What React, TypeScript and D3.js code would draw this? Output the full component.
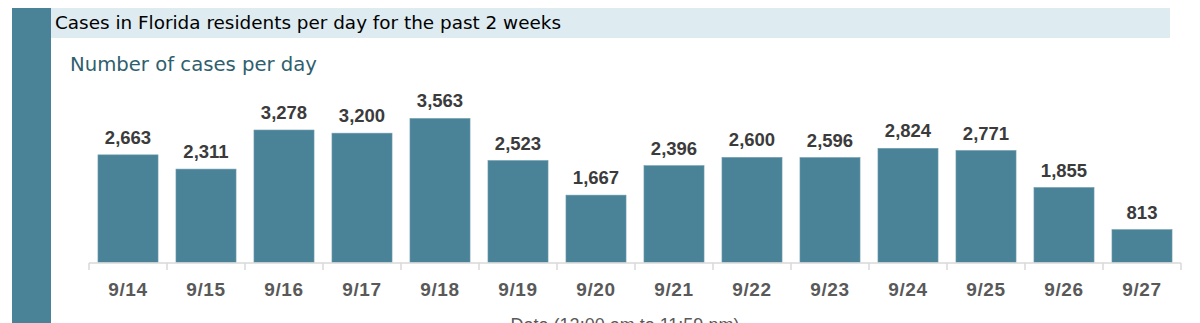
import React from "react";
import * as d3 from "d3";

const dates = ["9/14","9/15","9/16","9/17","9/18","9/19","9/20","9/21","9/22","9/23","9/24","9/25","9/26","9/27"];
const cases = [2663,2311,3278,3200,3563,2523,1667,2396,2600,2596,2824,2771,1855,813];
const title = "Cases in Florida residents per day for the past 2 weeks";
const subtitle = "Number of cases per day";
const xTitle = "Date (12:00 am to 11:59 pm)";

const W = 1200, H = 323;
const BAR = "#4a8398";
const FONT = "'Liberation Sans', Arial, sans-serif";
const HFONT = "'DejaVu Sans', Verdana, sans-serif";

export default function App() {
  const x = d3.scaleBand<string>().domain(dates).range([89, 1181]).paddingInner(0.23).paddingOuter(0.115);
  const y = d3.scaleLinear().domain([0, 3600]).range([262.5, 117]);
  const step = x.step();
  const bounds = dates.map((d) => (x(d) as number) - x.paddingInner() * step / 2);
  bounds.push(1181);
  const fmt = d3.format(",");
  return (
    <div style={{ position: "absolute", left: 0, top: 0 }}>
      <svg width={W} height={H} style={{ display: "block" }}>
        <rect x={0} y={0} width={W} height={H} fill="#fff" />
        <rect x={12} y={8} width={39} height={H - 8} fill={BAR} />
        <rect x={51} y={8} width={1119} height={30} fill="#deebf1" />
        <text x={55} y={29} fontFamily={HFONT} fontSize={18} fill="#000" textLength={506} lengthAdjust="spacingAndGlyphs">{title}</text>
        <text x={70} y={71} fontFamily={HFONT} fontSize={19.5} fill="#2f5f6e" textLength={247} lengthAdjust="spacingAndGlyphs">{subtitle}</text>
        {dates.map((d, i) => (
          <g key={d}>
            <rect x={x(d)} y={y(cases[i])} width={x.bandwidth()} height={y(0) - y(cases[i])} fill={BAR} stroke="#6c9cae" strokeWidth={0.6} />
            <text x={(x(d) as number) + x.bandwidth() / 2} y={y(cases[i]) - 11} textAnchor="middle" fontFamily={FONT} fontWeight="bold" fontSize={18.5} fill="#3b3b3b">{fmt(cases[i])}</text>
            <text x={(x(d) as number) + x.bandwidth() / 2} y={296} textAnchor="middle" fontFamily={FONT} fontWeight="bold" fontSize={19} letterSpacing={0.6} fill="#595959">{d}</text>
          </g>
        ))}
        <line x1={89} x2={1181} y1={263} y2={263} stroke="#d9d9d9" strokeWidth={1.5} />
        {bounds.map((b, i) => (
          <line key={i} x1={b} x2={b} y1={263} y2={270} stroke="#d9d9d9" strokeWidth={1.5} />
        ))}
        <text x={625} y={331} textAnchor="middle" fontFamily={FONT} fontSize={18} fill="#595959">{xTitle}</text>
      </svg>
    </div>
  );
}
